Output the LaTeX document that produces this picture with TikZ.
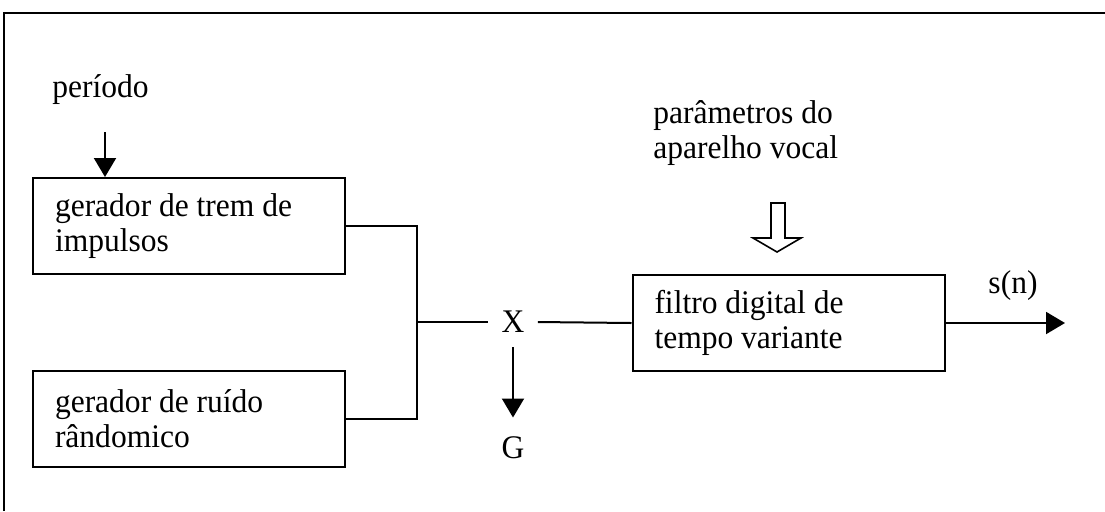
\documentclass[tikz,border=0pt]{standalone}
\usepackage{fontspec}
\setmainfont{Liberation Serif}[FakeStretch=0.955]
\usetikzlibrary{arrows.meta}
\begin{document}
\begin{tikzpicture}[x=0.5pt,y=-0.5pt,
  txt/.style={font=\fontsize{16.5}{17.5}\selectfont},
  block/.style={txt, draw, line width=1pt, minimum width=156pt, minimum height=48pt,
    text width=134pt, inner xsep=11pt, align=flush left},
  lbl/.style={txt, inner sep=0pt, anchor=base west},
  wire/.style={line width=1pt},
  arr/.style={wire, -{Triangle[length=9.5pt,width=11pt]}}]
\useasboundingbox (0,0) rectangle (1105,511);

% outer frame
\draw[line width=1.4pt] (4,511) -- (4,13) -- (1105,13);

% blocks
\node[block] (b1) at (189,226) {gerador de trem de\\impulsos};
\node[block] (b2) at (189,419) {gerador de ruído\\rândomico};
\node[block] (b3) at (788.5,323) {filtro digital de\\tempo variante};

% labels
\node[lbl] (periodo) at (52,97) {período};
\node[lbl, align=flush left] (params) at (653,158) {parâmetros do\\aparelho vocal};
\node[txt, inner sep=0pt] (sn) at (1013,286) {s(n)};

% gain multiplier
\node[txt, inner xsep=6.5pt, inner ysep=7pt] (X) at (513,322) {X};
\node[txt, inner xsep=2pt, inner ysep=9.5pt] (G) at (513,448) {G};

% period input
\coordinate (pin) at (105,132);
\draw[arr] (pin) -- (pin |- b1.north);

% excitation sources joined into the multiplier
\coordinate (join) at (417,322);
\draw[wire] (b1.east) -| (join);
\draw[wire] (b2.east) -| (join);
\draw[wire] (join) -- (X.west);
\draw[wire] (X.east) -- (b3.west);
\draw[arr] (X.south) -- (G.north);

% filter output
\coordinate (out) at (1065,323);
\draw[arr] (b3.east) -- (out);

% hollow arrow for the vocal tract parameters
\draw[line width=0.8pt, line join=miter]
  (771,203) -- (785,203) -- (785,238) -- (801,238) -- (777,252)
  -- (753,238) -- (771,238) -- cycle;
\end{tikzpicture}
\end{document}
